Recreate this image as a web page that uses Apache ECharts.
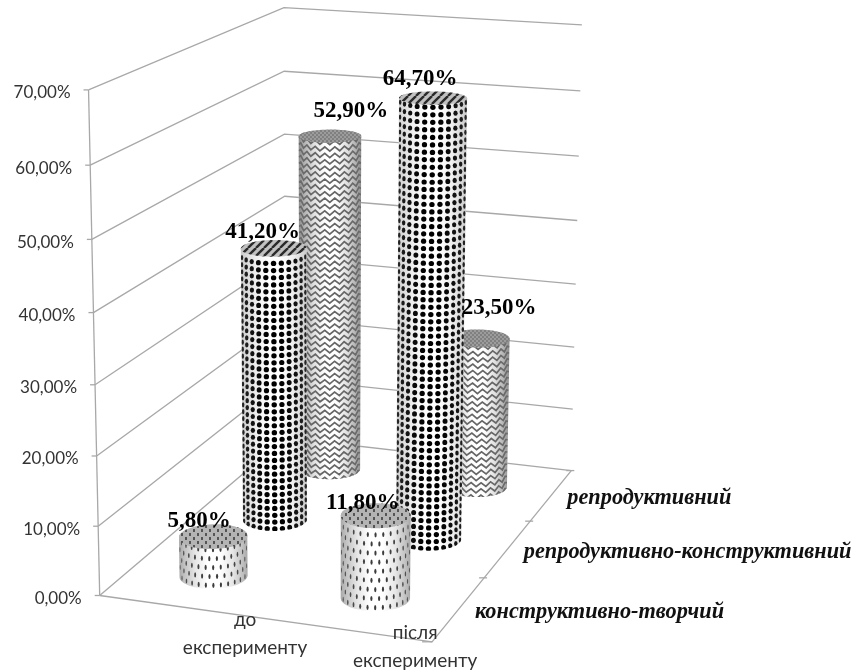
<!DOCTYPE html>
<html><head><meta charset="utf-8">
<style>html,body{margin:0;padding:0;background:#fff}#c{width:851px;height:672px}</style>
<script src="https://cdn.jsdelivr.net/npm/echarts@6/dist/echarts.min.js"></script>
</head><body><div id="c"></div>
<script>
// ---- data ----
const categories = ['до\nексперименту', 'після\nексперименту'];
const depthNames = ['конструктивно-творчий', 'репродуктивно-конструктивний', 'репродуктивний'];
const creative = [5.8, 11.8];
const constructive = [41.2, 64.7];
const reproductive = [52.9, 23.5];
const valueTicks = [0, 10, 20, 30, 40, 50, 60, 70];

// ---- camera: fitted to the drawn box, (u, depth, w) in 0..1 -> page pixels ----
const calib = [];
const L = [[100,595],[98,525],[96,455],[95,385],[93,313],[91.5,240],[90,165],[88,91]];
const B = [[285,438],[285,379],[285,319],[285,258],[285,196],[285,134],[285,71],[285,7]];
const R = [[571,470],[573,409],[574,347],[576,284],[577,221],[579,156],[580,90],[581,25]];
for (let i = 0; i < 8; i++) {
  calib.push([0,0,i/7,L[i][0],L[i][1]], [0,1,i/7,B[i][0],B[i][1]], [1,1,i/7,R[i][0],R[i][1]]);
}
calib.push([1,0,0,435,642],[1,1/3,0,483,578],[1,2/3,0,530,522]);
function solveCamera(pts) {
  const n = 11, A = Array.from({length:n},()=>new Array(n+1).fill(0));
  const add = (r, b) => { for (let i=0;i<n;i++){ for (let j=0;j<n;j++) A[i][j]+=r[i]*r[j]; A[i][n]+=r[i]*b; } };
  pts.forEach(([u,v,w,x,y]) => {
    x/=500; y/=500;
    add([u,v,w,1,0,0,0,0,-x*u,-x*v,-x*w], x);
    add([0,0,0,0,u,v,w,1,-y*u,-y*v,-y*w], y);
  });
  for (let c=0;c<n;c++){
    let p=c; for(let r=c+1;r<n;r++) if(Math.abs(A[r][c])>Math.abs(A[p][c])) p=r;
    [A[c],A[p]]=[A[p],A[c]];
    for(let r=0;r<n;r++){ if(r===c) continue; const f=A[r][c]/A[c][c]; for(let k=c;k<=n;k++) A[r][k]-=f*A[c][k]; }
  }
  return A.map((row,i)=>row[n]/row[i]);
}
const P = solveCamera(calib);
function project(u,v,w){
  const d = P[8]*u+P[9]*v+P[10]*w+1;
  return [500*(P[0]*u+P[1]*v+P[2]*w+P[3])/d, 500*(P[4]*u+P[5]*v+P[6]*w+P[7])/d];
}
const RU = 0.099, RV = 0.068;
const GRID = '#a8a8a8', TEXT = '#333333';
const SANS = 'Lato, "Noto Sans", sans-serif';
const SERIF = '"Liberation Serif", serif';

function norm(api, params, cat, val){
  const p = api.coord([cat, val]), r = params.coordSys;
  return {u:(p[0]-r.x)/r.width, w:1-(p[1]-r.y)/r.height};
}
function line(points, width){
  return {type:'polyline', shape:{points}, style:{stroke:GRID, lineWidth:width||1.3, fill:null}, silent:true};
}
function text(str, x, y, font, fill, align){
  return {type:'text', style:{text:str, x, y, font, fill, align:align||'center', verticalAlign:'middle', lineHeight:28}, silent:true};
}
function hull(pts){
  const s=pts.slice().sort((a,b)=>a[0]-b[0]||a[1]-b[1]);
  const cross=(o,a,b)=>(a[0]-o[0])*(b[1]-o[1])-(a[1]-o[1])*(b[0]-o[0]);
  const lo=[],up=[];
  for(const p of s){while(lo.length>1&&cross(lo[lo.length-2],lo[lo.length-1],p)<=0)lo.pop();lo.push(p);}
  for(const p of s.slice().reverse()){while(up.length>1&&cross(up[up.length-2],up[up.length-1],p)<=0)up.pop();up.push(p);}
  return lo.slice(0,-1).concat(up.slice(0,-1));
}
function newCanvas(w,h){const c=document.createElement('canvas');c.width=w;c.height=h;return c;}

// ---- cylinder surface textures, drawn in page pixels ----
const WRAP = 1.178;
function sideTexture(kind,u0,v0,w1){
  const c=newCanvas(851,672), g=c.getContext('2d');
  g.fillStyle='#fff'; g.fillRect(0,0,851,672);
  g.filter='blur(0.45px)';
  // the camera sees the cylinder obliquely, so the visible half is turned by phi
  const o=project(u0,v0,w1/2), du=project(u0+RU,v0,w1/2)[0]-o[0], dv=project(u0,v0+RV,w1/2)[0]-o[0];
  const phi=-Math.atan2(dv,du);
  // t runs -1..1 across the visible side; columns tighten gently towards the edges
  const pt=(t,w)=>{
    const cx=Math.sin(t*WRAP)/Math.sin(WRAP), th=Math.acos(cx)+phi;
    return project(u0+RU*Math.cos(th), v0-RV*Math.sin(th), w);
  };
  const squeeze=t=>Math.cos(t*WRAP);
  if(kind===1){ // dots
    const dw=0.015; g.fillStyle='#000';
    for(let r=0;r*dw<w1;r++){
      for(let k=-5;k<=5;k++){ const t=k/5.4;
        const ww=r*dw+dw*0.3; if(ww>w1) continue;
        const [x,y]=pt(t,ww);
        g.beginPath(); g.ellipse(x,y,Math.max(0.9,2.7*squeeze(t)),2.6,0,0,7); g.fill(); } }
  } else if(kind===0){ // dashes
    const dw=0.0185; g.fillStyle='#3c3c3c';
    for(let r=0;r*dw<w1+dw;r++){ const off=r%2?0.5:0;
      for(let k=-6;k<=6;k++){ const t=(k+off)/5.8; if(Math.abs(t)>=1) continue;
        const [x,y]=pt(t,r*dw+dw*0.4);
        g.beginPath(); g.ellipse(x,y,Math.max(0.5,1.1*squeeze(t)),2.6,0,0,7); g.fill(); } }
  } else { // waves
    const dw=0.014, n=16; g.strokeStyle='#666'; g.lineWidth=1.7;
    for(let r=0;r*dw<w1+dw;r++){ g.beginPath();
      for(let k=0;k<=n;k++){ const t=k/n*2-1, ww=r*dw+(k%2?0.0045:-0.0045);
        const [x,y]=pt(t,ww); k?g.lineTo(x,y):g.moveTo(x,y); }
      g.stroke(); }
  }
  return {image:c, repeat:'no-repeat'};
}
function topPattern(kind){
  const c=newCanvas(8,8), g=c.getContext('2d');
  if(kind===1){ g.fillStyle='#c0c0c0'; g.fillRect(0,0,8,8); g.strokeStyle='#2a2a2a'; g.lineWidth=2.4;
    for(let i=-16;i<24;i+=8){ g.beginPath(); g.moveTo(i,8); g.lineTo(i+8,0); g.stroke(); }
  } else if(kind===0){ g.fillStyle='#b4b4b4'; g.fillRect(0,0,8,8); g.fillStyle='#555';
    g.fillRect(1,1,2,3); g.fillRect(5,5,2,3);
  } else { g.fillStyle='#9c9c9c'; g.fillRect(0,0,8,8); g.fillStyle='#808080';
    for(let i=0;i<8;i+=2) for(let j=i%4?0:2;j<8;j+=4) g.fillRect(i,j,2,2);
  }
  return {image:c, repeat:'repeat'};
}
const topFills=[topPattern(0),topPattern(1),topPattern(2)];
const edgeAlpha=[0.6,0.38,0.8];

function cylinderRenderer(depthIndex){
  return function(params, api){
    const cat=api.value(0), val=api.value(1);
    const base=norm(api,params,cat,0), top=norm(api,params,cat,val);
    const u0=base.u, v0=(depthIndex+0.5)/depthNames.length, w1=top.w;
    const ring=w=>{const a=[];for(let i=0;i<72;i++){const t=i/72*2*Math.PI;a.push(project(u0+RU*Math.cos(t),v0+RV*Math.sin(t),w));}return a;};
    const body=hull(ring(0).concat(ring(w1)));
    const A=edgeAlpha[depthIndex], col=a=>'rgba(110,110,110,'+a+')';
    const shade=new echarts.graphic.LinearGradient(0,0,1,0,[
      {offset:0,color:col(A)},{offset:0.08,color:col(A*0.7)},
      {offset:0.24,color:col(A*0.28)},{offset:0.42,color:col(0)},
      {offset:0.6,color:col(0)},{offset:0.78,color:col(A*0.28)},
      {offset:0.92,color:col(A*0.7)},{offset:1,color:col(A)}]);
    return {type:'group',silent:true,children:[
      {type:'polygon',shape:{points:body},style:{fill:sideTexture(depthIndex,u0,v0,w1)}},
      {type:'polygon',shape:{points:body},style:{fill:shade}},
      {type:'polygon',shape:{points:ring(w1)},style:{fill:topFills[depthIndex]}}
    ]};
  };
}

// pixel nudges of value labels from the top of their cylinder
const labelNudge={ '0_0':[-14,-15],'0_1':[-13,-13],'1_0':[-11,-16],'1_1':[-13,-19],'2_0':[21,-25],'2_1':[21,-30] };
const seriesValues=[creative,constructive,reproductive];
const labelRows=[];
seriesValues.forEach((arr,s)=>arr.forEach((v,c)=>labelRows.push([c,v,s])));
const fmt=v=>v.toFixed(2).replace('.',',')+'%';

const option={
  backgroundColor:'#fff', animation:false,
  grid:{left:0,right:0,top:0,bottom:0},
  xAxis:{type:'category',data:categories,show:false},
  yAxis:{type:'value',min:0,max:70,interval:10,show:false},
  tooltip:{show:false},
  series:[
    {name:'walls',type:'custom',z:1,data:valueTicks.map(v=>[0,v]),encode:{x:0,y:1},
     renderItem(params,api){
       const w=norm(api,params,0,api.value(1)).w, val=api.value(1);
       const a=project(0,0,w),b=project(0,1,w),d=project(1,1,w);
       const kids=[line([a,b,d]),line([[a[0]-5,a[1]],a]),text(fmt(val),a[0]-18,a[1]+3,'17px '+SANS,TEXT,'right')];
       if(val===0){
         const fr=project(1,0,0);
         kids.push(line([a,fr,d]),line([a,project(0,0,1)]),line([[fr[0]-10,fr[1]],fr]));
       }
       return {type:'group',children:kids};
     }},
    {name:'depth',type:'custom',z:1,data:depthNames.map((n,i)=>[0,0,i]),encode:{x:0,y:1},
     renderItem(params,api){
       const i=api.value(2),n=depthNames.length;
       const t=project(1,(i+1)/n,0),m=project(1,(i+0.5)/n,0);
       return {type:'group',children:[
         line([[t[0]-5,t[1]],[t[0]+3,t[1]]]),
         text(depthNames[i],m[0]+16,m[1]+3.5,'italic bold 22.3px '+SERIF,'#111','left')]};
     }},
    {name:'categories',type:'custom',z:1,data:categories.map((n,i)=>[i,0]),encode:{x:0,y:1},
     renderItem(params,api){
       const c=api.value(0),u=norm(api,params,c,0).u,p=project(u,0,0);
       return text(categories[c],p[0]+(c?69:65),p[1]+(c?17.5:27),'19px '+SANS,TEXT);
     }},
    {name:depthNames[2],type:'custom',z:2,data:reproductive.map((v,c)=>[c,v]),encode:{x:0,y:1},renderItem:cylinderRenderer(2)},
    {name:depthNames[1],type:'custom',z:3,data:constructive.map((v,c)=>[c,v]),encode:{x:0,y:1},renderItem:cylinderRenderer(1)},
    {name:depthNames[0],type:'custom',z:4,data:creative.map((v,c)=>[c,v]),encode:{x:0,y:1},renderItem:cylinderRenderer(0)},
    {name:'values',type:'custom',z:5,data:labelRows,encode:{x:0,y:1},
     renderItem(params,api){
       const c=api.value(0),v=api.value(1),s=api.value(2);
       const t=norm(api,params,c,v),p=project(t.u,(s+0.5)/depthNames.length,t.w),d=labelNudge[s+'_'+c];
       return text(fmt(v),p[0]+d[0],p[1]+d[1],'bold 23px '+SERIF,'#000');
     }}
  ]
};
const chart=echarts.init(document.getElementById('c'),null,{renderer:'canvas',width:851,height:672});
chart.setOption(option);
</script></body></html>
